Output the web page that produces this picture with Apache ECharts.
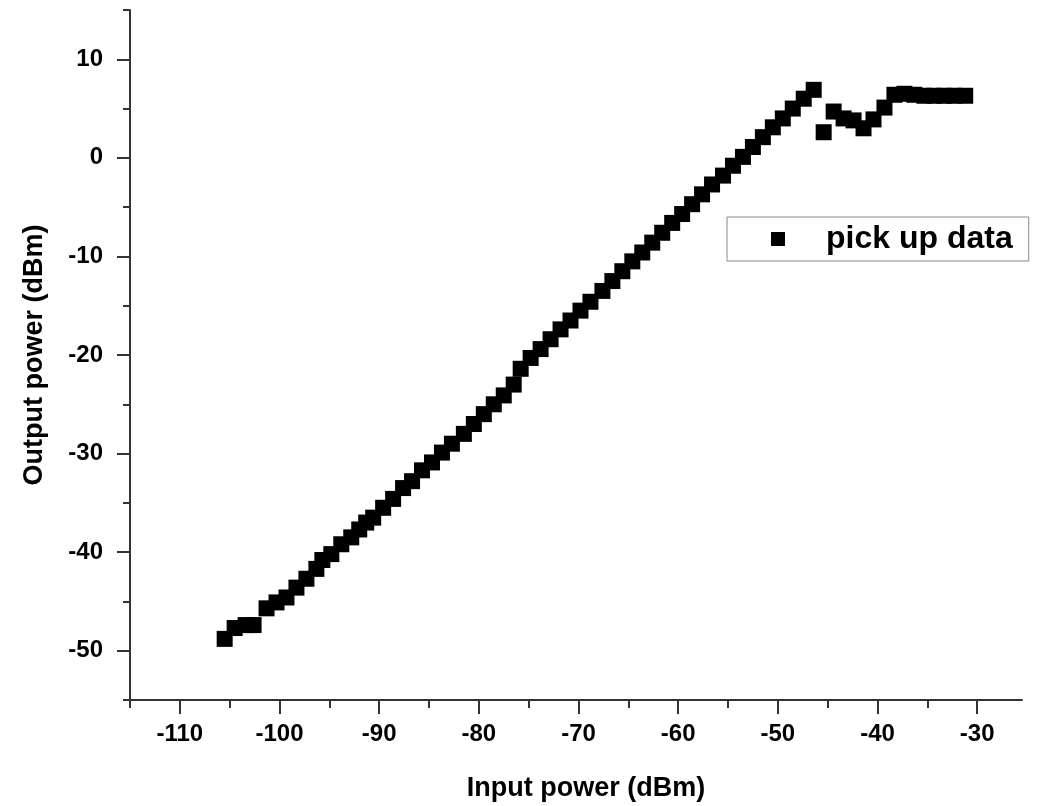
<!DOCTYPE html>
<html>
<head>
<meta charset="utf-8">
<script src="https://cdn.jsdelivr.net/npm/echarts@6/dist/echarts.min.js"></script>
<style>
  html, body { margin: 0; padding: 0; background: #ffffff; }
  #chart { width: 1037px; height: 806px; }
</style>
</head>
<body>
<div id="chart"></div>
<script>
// values (dBm)
var inputPower = [
  -105.5, -104.5, -103.4, -102.6, -101.3, -100.3, -99.3, -98.3, -97.3, -96.3,
  -95.7, -94.8, -93.8, -92.8, -92.0, -91.3, -90.6, -89.6, -88.6, -87.6,
  -86.7, -85.7, -84.7, -83.7, -82.7, -81.5, -80.5, -79.5, -78.5, -77.5,
  -76.5, -75.8, -74.8, -73.8, -72.8, -71.8, -70.8, -69.8, -68.8, -67.6,
  -66.6, -65.6, -64.6, -63.6, -62.6, -61.6, -60.6, -59.6, -58.6, -57.6,
  -56.6, -55.5, -54.5, -53.5, -52.5, -51.5, -50.5, -49.5, -48.5, -47.4,
  -46.4, -45.4, -44.4, -43.4, -42.4, -41.4, -40.4, -39.3, -38.3, -37.3,
  -36.3, -35.3, -34.3, -33.3, -32.3, -31.2
]
var outputPower = [
  -48.8, -47.7, -47.4, -47.4, -45.7, -45.1, -44.6, -43.6, -42.7, -41.7,
  -40.8, -40.2, -39.2, -38.5, -37.7, -37.0, -36.5, -35.5, -34.6, -33.5,
  -32.8, -31.7, -30.9, -29.9, -29.0, -28.0, -27.0, -26.0, -25.0, -24.1,
  -23.0, -21.4, -20.3, -19.4, -18.4, -17.4, -16.5, -15.5, -14.6, -13.5,
  -12.5, -11.5, -10.5, -9.6, -8.6, -7.6, -6.6, -5.7, -4.7, -3.7,
  -2.7, -1.8, -0.8, 0.1, 1.1, 2.1, 3.1, 4.0, 5.0, 6.0,
  6.9, 2.6, 4.7, 4.0, 3.8, 3.0, 3.9, 5.1, 6.4, 6.5,
  6.4, 6.3, 6.3, 6.3, 6.3, 6.3
]
var xMajorTicks = [-110, -100, -90, -80, -70, -60, -50, -40, -30]
var xMinorTicks = [-115, -105, -95, -85, -75, -65, -55, -45, -35]
var yMajorTicks = [-50, -40, -30, -20, -10, 0, 10]
var yMinorTicks = [-55, -45, -35, -25, -15, -5, 5, 15]

var seriesName = 'pick up data'
var font = 'Arial, "Liberation Sans", sans-serif'
var axisColor = '#333333'

var points = inputPower.map(function (x, i) { return [x, outputPower[i]] })

var chart = echarts.init(document.getElementById('chart'))

// major axis draws line, labels and long ticks; minor axis only short ticks
function xAxisOf(major) {
  return {
    type: 'value',
    min: -115,
    max: -25.5,
    position: 'bottom',
    name: major ? 'Input power (dBm)' : '',
    nameLocation: 'middle',
    nameGap: 75,
    nameTextStyle: { fontFamily: font, fontWeight: 'bold', fontSize: 27, color: '#000', padding: [0, 0, 0, 20] },
    axisLine: { show: major, onZero: false, lineStyle: { color: axisColor, width: 2 } },
    axisTick: { show: true, customValues: major ? xMajorTicks : xMinorTicks, length: major ? 14 : 8, lineStyle: { color: axisColor, width: 2 } },
    axisLabel: { show: major, customValues: xMajorTicks, margin: 22, fontFamily: font, fontWeight: 'bold', fontSize: 24, color: '#000' },
    splitLine: { show: false }
  }
}
function yAxisOf(major) {
  return {
    type: 'value',
    min: -55,
    max: 15,
    position: 'left',
    name: major ? 'Output power (dBm)' : '',
    nameLocation: 'middle',
    nameGap: 82,
    nameTextStyle: { fontFamily: font, fontWeight: 'bold', fontSize: 27, color: '#000' },
    axisLine: { show: major, onZero: false, lineStyle: { color: axisColor, width: 2 } },
    axisTick: { show: true, customValues: major ? yMajorTicks : yMinorTicks, length: major ? 13 : 7, lineStyle: { color: axisColor, width: 2 } },
    axisLabel: { show: major, customValues: yMajorTicks, margin: 27, fontFamily: font, fontWeight: 'bold', fontSize: 24, color: '#000' },
    splitLine: { show: false }
  }
}

chart.setOption({
  backgroundColor: '#ffffff',
  animation: false,
  grid: {
    left: 130,
    right: 15,
    top: 10,
    bottom: 106,
    containLabel: false,
    outerBoundsMode: 'none'
  },
  legend: {
    data: [seriesName],
    left: 727,
    top: 217,
    icon: 'rect',
    itemWidth: 14,
    itemHeight: 14,
    padding: [6, 16, 6, 44],
    borderColor: '#888888',
    borderWidth: 1,
    textStyle: { fontFamily: font, fontWeight: 'bold', fontSize: 32, color: '#000', padding: [0, 0, 0, 36] }
  },
  xAxis: [xAxisOf(true), xAxisOf(false)],
  yAxis: [yAxisOf(true), yAxisOf(false)],
  series: [{
    name: seriesName,
    type: 'scatter',
    symbol: 'rect',
    symbolSize: 16,
    itemStyle: { color: '#000000', opacity: 1 },
    data: points
  }]
})
</script>
</body>
</html>
